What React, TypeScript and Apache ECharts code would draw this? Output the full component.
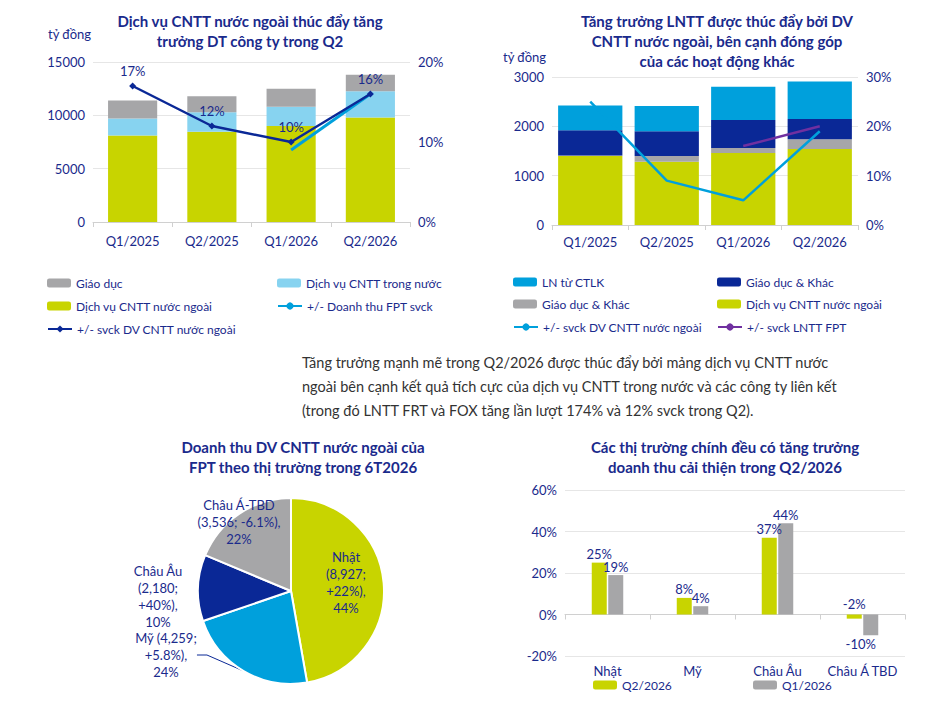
import React, { useEffect, useRef } from 'react';
import * as echarts from 'echarts';

const quarters = ['Q1/2025', 'Q2/2025', 'Q1/2026', 'Q2/2026'];
// chart 1: doanh thu (tỷ đồng)
const rev_foreign = [8100, 8450, 9000, 9800];
const rev_domestic = [1600, 1850, 1800, 2450];
const rev_edu = [1700, 1500, 1700, 1550];
const rev_foreign_growth = [17, 12, 10, 16];
const rev_total_growth = [null, null, 9, 16];
// chart 2: LNTT (tỷ đồng)
const pbt_foreign = [1400, 1280, 1460, 1540];
const pbt_edu_grey = [10, 120, 100, 200];
const pbt_edu_navy = [510, 500, 570, 410];
const pbt_affiliates = [500, 510, 670, 760];
const pbt_foreign_growth = [25, 9, 5, 19];
const pbt_total_growth = [null, null, 16, 20];
// chart 3: pie
const markets = ['Nhật', 'Mỹ', 'Châu Âu', 'Châu Á-TBD'];
const market_rev = [8927, 4259, 2180, 3536];
const market_growth = ['+22%', '+5.8%', '+40%', '-6.1%'];
const market_share = [44, 24, 10, 22];
// chart 4
const regions = ['Nhật', 'Mỹ', 'Châu Âu', 'Châu Á TBD'];
const growth_q2 = [25, 8, 37, -2];
const growth_q1 = [19, 4, 44, -10];

const NAVY = '#1a2a8c';
const GREEN = '#c8d400';
const LBLUE = '#87d3f0';
const GREY = '#a6a6a8';
const DNAVY = '#0a2896';
const BLUE = '#00a0dc';
const PURPLE = '#7030a0';
const FONT = 'Lato';

const App = () => {
    const chartRef = useRef<HTMLDivElement>(null);

    useEffect(() => {
        if (!chartRef.current) return;
        const myChart = echarts.init(chartRef.current, null, { renderer: 'svg' });

        const axisText = { color: NAVY, fontSize: 13, fontFamily: FONT };
        const plain = (v: number) => String(v);
        const splitLine = { show: true, lineStyle: { color: '#e6e6e6' } };
        const seriesLabel = (color = NAVY) => ({
            show: true, color, fontSize: 13, fontFamily: FONT,
            formatter: (p: any) => p.value + '%'
        });
        const lineData = (vals: any[], pos: string[], offs: number[][]) =>
            vals.map((v, i) => (v == null ? null : { value: v, label: { position: pos[i], offset: offs[i] } }));

        const leg = (name: string, left: number, top: number) => ({
            data: [name], left, top, itemWidth: 24, itemHeight: 9, selectedMode: false,
            textStyle: { color: NAVY, fontSize: 12, fontFamily: FONT }
        });

        const titleStyle = { color: NAVY, fontSize: 15, fontWeight: 'bold', fontFamily: FONT, lineHeight: 20 };

        const option: any = {
            animation: false,
            textStyle: { fontFamily: FONT },
            title: [
                { text: 'Dịch vụ CNTT nước ngoài thúc đẩy tăng\ntrưởng DT công ty trong Q2', left: 245, top: 6, textAlign: 'center', textStyle: titleStyle },
                { text: 'Tăng trưởng LNTT được thúc đẩy bởi DV\nCNTT nước ngoài, bên cạnh đóng góp\ncủa các hoạt động khác', left: 712, top: 6, textAlign: 'center', textStyle: titleStyle },
                { text: 'Doanh thu DV CNTT nước ngoài của\nFPT theo thị trường trong 6T2026', left: 298, top: 432, textAlign: 'center', textStyle: titleStyle },
                { text: 'Các thị trường chính đều có tăng trưởng\ndoanh thu cải thiện trong Q2/2026', left: 720, top: 432, textAlign: 'center', textStyle: titleStyle }
            ],
            graphic: [
                { type: 'text', left: 48, top: 27, style: { text: 'tỷ đồng', fill: NAVY, font: `13px ${FONT}` } },
                { type: 'text', left: 503, top: 50, style: { text: 'tỷ đồng', fill: NAVY, font: `13px ${FONT}` } },
                {
                    type: 'text', left: 302, top: 350, style: {
                        text: 'Tăng trưởng mạnh mẽ trong Q2/2026 được thúc đẩy bởi mảng dịch vụ CNTT nước\nngoài bên cạnh kết quả tích cực của dịch vụ CNTT trong nước và các công ty liên kết\n(trong đó LNTT FRT và FOX tăng lần lượt 174% và 12% svck trong Q2).',
                        fill: '#333333', font: `14.5px ${FONT}`, lineHeight: 24
                    }
                }
            ],
            legend: [
                leg('Giáo dục', 42, 272),
                leg('Dịch vụ CNTT trong nước', 272, 272),
                leg('Dịch vụ CNTT nước ngoài', 42, 295),
                leg('+/- Doanh thu FPT svck', 272, 295),
                leg('+/- svck DV CNTT nước ngoài', 42, 318),
                leg('LN từ CTLK', 508, 271),
                leg('Giáo dục & Khác', 712, 271),
                leg('Giáo dục & Khác\u200b', 508, 293),
                leg('Dịch vụ CNTT nước ngoài\u200b', 712, 293),
                leg('+/- svck DV CNTT nước ngoài\u200b', 508, 316),
                leg('+/- svck LNTT FPT', 712, 316),
                leg('Q2/2026', 588, 674),
                leg('Q1/2026', 748, 674)
            ],
            grid: [
                { left: 93, right: 935 - 410, top: 62, height: 160 },
                { left: 552, right: 935 - 858, top: 77, height: 148 },
                { left: 565, right: 935 - 905, top: 490, height: 166 }
            ],
            xAxis: [
                { type: 'category', gridIndex: 0, data: quarters, axisLabel: { ...axisText, margin: 12 }, axisTick: { show: true, lineStyle: { color: '#d0d0d0' } }, axisLine: { lineStyle: { color: '#d0d0d0' } } },
                { type: 'category', gridIndex: 1, data: quarters, axisLabel: { ...axisText, margin: 10 }, axisTick: { show: true, lineStyle: { color: '#d0d0d0' } }, axisLine: { lineStyle: { color: '#d0d0d0' } } },
                { type: 'category', gridIndex: 2, data: regions, axisLabel: { ...axisText, margin: 8, interval: 0 }, axisTick: { show: true, lineStyle: { color: '#d0d0d0' } }, axisLine: { onZero: true, onZeroAxisIndex: 4, lineStyle: { color: '#d0d0d0' } } }
            ],
            yAxis: [
                { type: 'value', gridIndex: 0, min: 0, max: 15000, interval: 5000, axisLabel: { ...axisText, formatter: plain }, splitLine },
                { type: 'value', gridIndex: 0, min: 0, max: 20, interval: 10, position: 'right', axisLabel: { ...axisText, formatter: '{value}%' }, splitLine: { show: false } },
                { type: 'value', gridIndex: 1, min: 0, max: 3000, interval: 1000, axisLabel: { ...axisText, formatter: plain }, splitLine },
                { type: 'value', gridIndex: 1, min: 0, max: 30, interval: 10, position: 'right', axisLabel: { ...axisText, formatter: '{value}%' }, splitLine: { show: false } },
                { type: 'value', gridIndex: 2, min: -20, max: 60, interval: 20, axisLabel: { ...axisText, formatter: '{value}%' }, splitLine }
            ],
            series: [
                // chart 1
                { name: 'Dịch vụ CNTT nước ngoài', type: 'bar', stack: 'a', barWidth: '62%', xAxisIndex: 0, yAxisIndex: 0, data: rev_foreign, itemStyle: { color: GREEN } },
                { name: 'Dịch vụ CNTT trong nước', type: 'bar', stack: 'a', xAxisIndex: 0, yAxisIndex: 0, data: rev_domestic, itemStyle: { color: LBLUE } },
                { name: 'Giáo dục', type: 'bar', stack: 'a', xAxisIndex: 0, yAxisIndex: 0, data: rev_edu, itemStyle: { color: GREY } },
                {
                    name: '+/- Doanh thu FPT svck', type: 'line', xAxisIndex: 0, yAxisIndex: 1, symbol: 'none', lineStyle: { color: BLUE, width: 3 }, itemStyle: { color: BLUE },
                    label: seriesLabel(), labelLayout: { hideOverlap: false },
                    data: lineData(rev_total_growth, ['top', 'top', 'bottom', 'right'], [[0, 0], [0, 0], [14, 0], [8, 8]]), z: 3
                },
                {
                    name: '+/- svck DV CNTT nước ngoài', type: 'line', xAxisIndex: 0, yAxisIndex: 1, symbol: 'diamond', symbolSize: 7, lineStyle: { color: DNAVY, width: 2.5 }, itemStyle: { color: DNAVY },
                    label: seriesLabel(), labelLayout: { hideOverlap: false },
                    data: lineData(rev_foreign_growth, ['top', 'top', 'top', 'top'], [[0, 0], [0, 0], [0, 0], [0, -4]]), z: 4
                },
                // chart 2
                { name: 'Dịch vụ CNTT nước ngoài\u200b', type: 'bar', stack: 'b', barWidth: '84%', xAxisIndex: 1, yAxisIndex: 2, data: pbt_foreign, itemStyle: { color: GREEN } },
                { name: 'Giáo dục & Khác\u200b', type: 'bar', stack: 'b', xAxisIndex: 1, yAxisIndex: 2, data: pbt_edu_grey, itemStyle: { color: GREY } },
                { name: 'Giáo dục & Khác', type: 'bar', stack: 'b', xAxisIndex: 1, yAxisIndex: 2, data: pbt_edu_navy, itemStyle: { color: DNAVY } },
                { name: 'LN từ CTLK', type: 'bar', stack: 'b', xAxisIndex: 1, yAxisIndex: 2, data: pbt_affiliates, itemStyle: { color: BLUE } },
                {
                    name: '+/- svck DV CNTT nước ngoài\u200b', type: 'line', xAxisIndex: 1, yAxisIndex: 3, symbol: 'none', lineStyle: { color: BLUE, width: 2.5 }, itemStyle: { color: BLUE },
                    label: seriesLabel(), labelLayout: { hideOverlap: false },
                    data: lineData(pbt_foreign_growth, ['right', 'right', 'bottom', 'right'], [[8, 0], [2, 2], [20, 0], [4, 0]]), z: 3
                },
                {
                    name: '+/- svck LNTT FPT', type: 'line', xAxisIndex: 1, yAxisIndex: 3, symbol: 'none', lineStyle: { color: PURPLE, width: 2.5 }, itemStyle: { color: PURPLE },
                    label: seriesLabel('#ffffff'), labelLayout: { hideOverlap: false },
                    data: lineData(pbt_total_growth, ['top', 'top', 'top', 'top'], [[0, 0], [0, 0], [-2, -12], [-8, -2]]), z: 4
                },
                // chart 3
                {
                    type: 'pie', radius: 93, center: [291, 591], startAngle: 90, clockwise: true, selectedOffset: 10,
                    itemStyle: { borderColor: '#ffffff', borderWidth: 2 },
                    data: markets.map((m, i) => ({
                        name: m, value: market_rev[i], selected: i === 0,
                        itemStyle: { color: [GREEN, BLUE, DNAVY, GREY][i] },
                        label: { position: i === 0 || i === 3 ? 'inside' : 'outside' },
                        labelLine: { show: i === 1, length: 10, length2: 10, lineStyle: { color: DNAVY } }
                    })),
                    label: {
                        color: NAVY, fontSize: 13, fontFamily: FONT, lineHeight: 17, align: 'center',
                        formatter: (p: any) => {
                            const i = p.dataIndex;
                            const v = market_rev[i].toLocaleString('en-US');
                            if (i === 0) return `${p.name}\n(${v};\n${market_growth[i]}),\n${market_share[i]}%`;
                            if (i === 1) return `${p.name} (${v};\n${market_growth[i]}),\n${market_share[i]}%`;
                            if (i === 2) return `${p.name}\n(${v};\n${market_growth[i]}),\n${market_share[i]}%`;
                            return `${p.name}\n(${v}; ${market_growth[i]}),\n${market_share[i]}%`;
                        }
                    },
                    labelLayout: (p: any) => {
                        const pos = [[346, 582], [166, 655], [158, 596], [239, 522]][p.dataIndex];
                        return { x: pos[0], y: pos[1], align: 'center', verticalAlign: 'middle' };
                    }
                },
                // chart 4
                {
                    name: 'Q2/2026', type: 'bar', xAxisIndex: 2, yAxisIndex: 4, barWidth: 15, barGap: '10%', itemStyle: { color: GREEN },
                    label: { ...seriesLabel(), position: 'top', distance: 2 },
                    data: growth_q2.map((v) => ({ value: v, label: v < 0 ? { position: 'top', offset: [0, -2] } : {} }))
                },
                {
                    name: 'Q1/2026', type: 'bar', xAxisIndex: 2, yAxisIndex: 4, barWidth: 15, itemStyle: { color: GREY },
                    label: { ...seriesLabel(), position: 'top', distance: 2 },
                    data: growth_q1.map((v) => ({ value: v, label: v < 0 ? { position: 'bottom', offset: [-10, 0] } : {} }))
                }
            ]
        };

        myChart.setOption(option);

        return () => {
            myChart.dispose();
        };
    }, []);

    return <div ref={chartRef} style={{ width: '935px', height: '704px', margin: '-8px' }} />;
};

export default App;
